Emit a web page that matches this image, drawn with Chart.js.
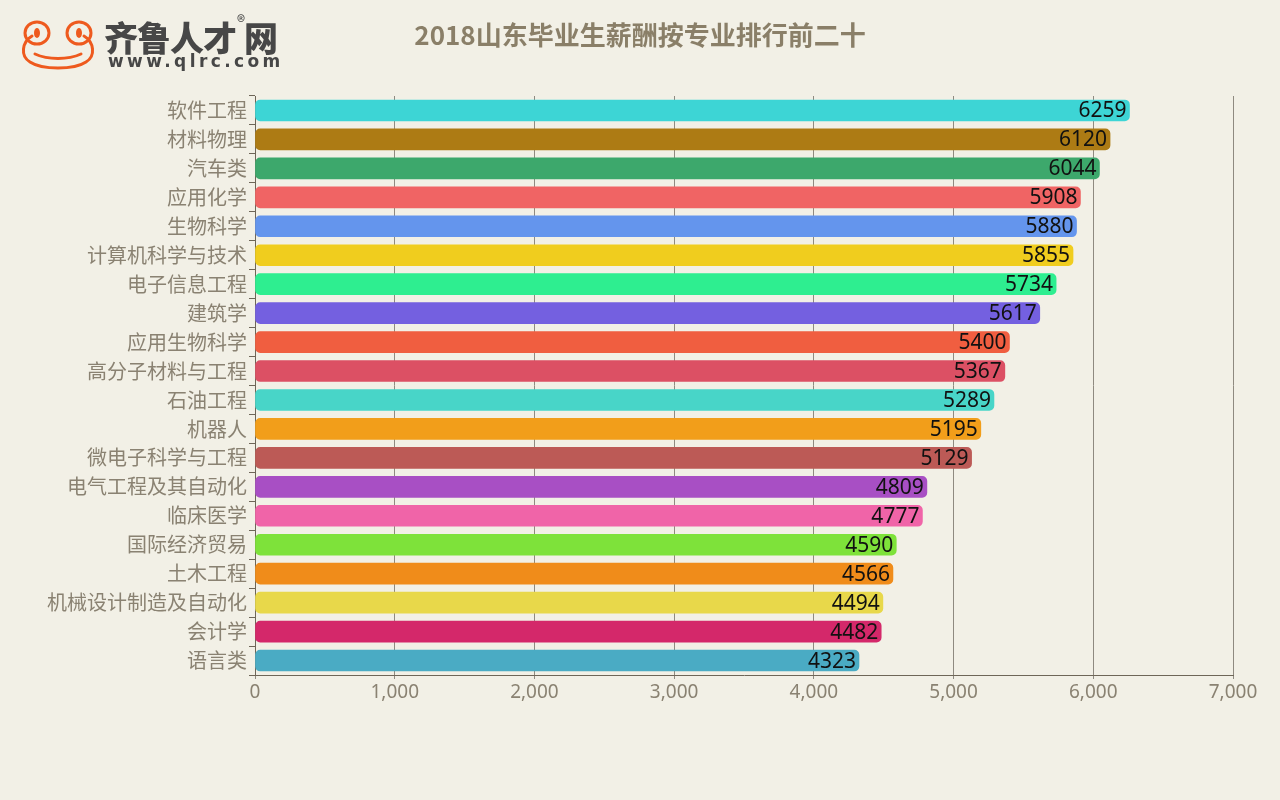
<!DOCTYPE html>
<html><head><meta charset="utf-8">
<script src="https://cdn.jsdelivr.net/npm/chart.js@4"></script>
<style>
html,body{margin:0;padding:0;background:#F2F0E6;}
#wrap{position:relative;width:1280px;height:800px;background:#F2F0E6;overflow:hidden;}
#c{position:absolute;left:0;top:0;}
#title{position:absolute;left:0;width:1280px;top:15px;text-align:center;font:bold 26px "Noto Sans CJK SC",sans-serif;color:#8A7F68;}
#logo{position:absolute;left:18px;top:16px;}
#brand{position:absolute;left:104px;top:12px;font:900 34px "Noto Sans CJK SC",sans-serif;color:#474747;letter-spacing:-1px;}
#brand sup{font-size:17px;font-weight:normal;vertical-align:top;position:relative;top:-4px;margin-left:1px;}
#url{position:absolute;left:108px;top:51px;font:bold 17px "DejaVu Sans",sans-serif;color:#474747;letter-spacing:3.4px;}
</style></head><body>
<div id="wrap">
<canvas id="c" width="1280" height="800"></canvas>
<svg id="logo" width="80" height="56" viewBox="0 0 80 56">
<g fill="none" stroke="#EE5A1E" stroke-width="3" stroke-linecap="round">
<path d="M14 20 C4 26 2 40 12 46 C24 54 56 54 68 46 C78 40 76 26 66 20"/>
<ellipse cx="19" cy="17" rx="12" ry="11"/>
<ellipse cx="61" cy="17" rx="12" ry="11"/>
<path d="M17 38 C30 44 50 44 63 38"/>
</g>
<g fill="#EE5A1E"><ellipse cx="19" cy="17" rx="3" ry="5"/><ellipse cx="61" cy="17" rx="3" ry="5"/></g>
</svg>
<div id="brand">齐鲁人才<sup>®</sup>网</div>
<div id="url">www.qlrc.com</div>
<div id="title">2018山东毕业生薪酬按专业排行前二十</div>
</div>
<script>
const categories = ["软件工程","材料物理","汽车类","应用化学","生物科学","计算机科学与技术","电子信息工程","建筑学","应用生物科学","高分子材料与工程","石油工程","机器人","微电子科学与工程","电气工程及其自动化","临床医学","国际经济贸易","土木工程","机械设计制造及自动化","会计学","语言类"];
const salaries = [6259,6120,6044,5908,5880,5855,5734,5617,5400,5367,5289,5195,5129,4809,4777,4590,4566,4494,4482,4323];
const barColors = ["#3DD5D5","#AD7B14","#3DA86C","#F06464","#6495ED","#F0CD1E","#2EEE90","#7460E0","#F05E40","#DC5064","#48D5C8","#F29E1A","#BC5A56","#A84FC4","#F064A8","#7EE23A","#F08C1A","#E8D84A","#D4286A","#4AABC4"];
const xTicks = [0,1000,2000,3000,4000,5000,6000,7000];

const valueLabels = {
  id:'valueLabels',
  afterDatasetsDraw(chart){
    const ctx = chart.ctx;
    const meta = chart.getDatasetMeta(0);
    ctx.save();
    ctx.font = '21px "Noto Sans", sans-serif';
    ctx.fillStyle = '#111';
    ctx.textAlign = 'right';
    ctx.textBaseline = 'middle';
    meta.data.forEach((bar,i)=>{
      ctx.fillText(String(salaries[i]), bar.x - 3, bar.y + 1);
    });
    ctx.restore();
  }
};

new Chart(document.getElementById('c'), {
  type:'bar',
  data:{labels:categories, datasets:[{data:salaries, backgroundColor:barColors, borderRadius:5, borderSkipped:false, barThickness:21}]},
  options:{
    indexAxis:'y', responsive:false, animation:false,
    layout:{padding:{top:96,right:47,left:0,bottom:0}},
    plugins:{legend:{display:false},tooltip:{enabled:false}},
    scales:{
      x:{min:0,max:7000,
        afterBuildTicks(s){s.ticks = xTicks.map(v=>({value:v}));},
        afterFit(s){s.height = 125;},
        grid:{color:'#8F8A80',lineWidth:1,tickLength:4,drawTicks:true},
        border:{color:'#6E6658',width:1},
        ticks:{color:'#8A8272',font:{family:'"Noto Sans", sans-serif',size:19},padding:2,
          callback:(v)=>Number(v).toLocaleString('en-US')}
      },
      y:{
        afterFit(s){s.width = 255;},
        grid:{drawOnChartArea:false,offset:true,tickLength:6,color:'#6E6658'},
        border:{color:'#6E6658',width:1},
        ticks:{color:'#8A8272',font:{family:'"Noto Sans CJK SC", sans-serif',size:20},padding:2}
      }
    }
  },
  plugins:[valueLabels]
});
</script>
</body></html>
